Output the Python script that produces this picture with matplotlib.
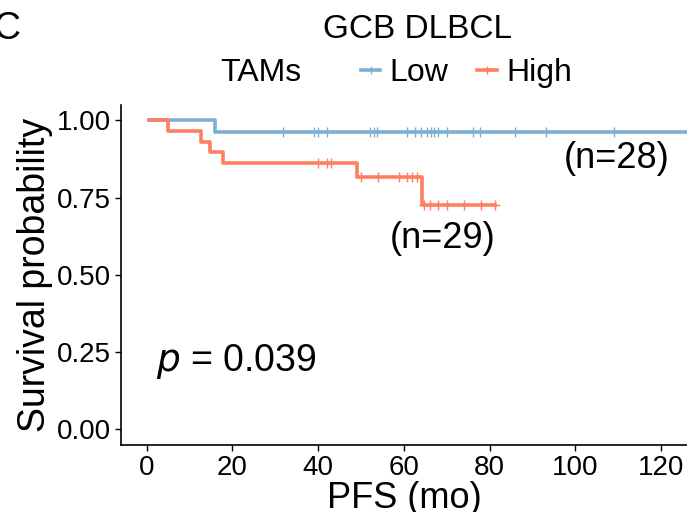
import matplotlib
matplotlib.use("Agg")
import matplotlib.pyplot as plt
import numpy as np
from matplotlib.lines import Line2D

plt.rcParams['font.family'] = ['Liberation Sans', 'DejaVu Sans']

# Kaplan-Meier steps (time in months, survival after step)
low_times = [0, 16, 130]
low_surv = [1.0, 0.964, 0.964]
low_censor = [31.8, 39.0, 39.9, 42.0, 52.0, 53.0, 53.7, 60.7, 62.5, 63.9, 65.3,
              66.3, 67.0, 67.9, 70.0, 76.1, 77.7, 85.8, 93.1, 109.0]

high_times = [0, 5.0, 12.7, 14.8, 17.8, 49.0, 64.1, 81.6]
high_surv = [1.0, 0.966, 0.931, 0.897, 0.862, 0.817, 0.727, 0.727]
high_censor = [39.9, 42.0, 43.0, 50.0, 53.9, 58.8, 60.7, 61.8, 63.0,
               64.7, 66.1, 68.0, 70.0, 73.9, 77.9, 81.2]

xticks = [0, 20, 40, 60, 80, 100, 120]
yticks = [0.00, 0.25, 0.50, 0.75, 1.00]

blue = "#7DAFD6"
red = "#FF7F61"


def surv_at(times, surv, t):
    i = np.searchsorted(times, t, side='right') - 1
    return np.array(surv)[i]


fig = plt.figure(figsize=(6.87, 5.12), dpi=100)
ax = fig.add_axes([0.176, 0.131, 0.824, 0.664])

for times, surv, cens, col in [(low_times, low_surv, low_censor, blue),
                               (high_times, high_surv, high_censor, red)]:
    ax.step(times, surv, where='post', color=col, lw=2.6, solid_capstyle='butt')
    ax.plot(cens, surv_at(times, surv, cens), ls='none', marker='+',
            ms=7, mew=1.0, color=col)

ax.set_xlim(-6, 126)
ax.set_ylim(-0.05, 1.05)
ax.set_xticks(xticks)
ax.set_yticks(yticks)
ax.set_yticklabels([f"{v:.2f}" for v in yticks])
ax.tick_params(labelsize=20, length=4, width=1.0, pad=3)
for s in ['top', 'right']:
    ax.spines[s].set_visible(False)
for s in ['left', 'bottom']:
    ax.spines[s].set_linewidth(1.2)

ax.set_xlabel("PFS (mo)", fontsize=26, labelpad=0)
ax.set_ylabel("Survival probability", fontsize=27, labelpad=3)

ax.text(109.6, 0.877, "(n=28)", fontsize=26, ha='center', va='center')
ax.text(69, 0.617, "(n=29)", fontsize=26, ha='center', va='center')
ax.text(2.2, 0.221, "$p$ = 0.039", fontsize=27, ha='left', va='center')

fig.text(0.608, 0.943, "GCB DLBCL", fontsize=24, ha='center', va='center')
fig.text(-0.010, 0.943, "C", fontsize=27, ha='left', va='center')
fig.text(0.320, 0.857, "TAMs", fontsize=23, ha='left', va='center')

handles = [Line2D([], [], color=blue, lw=2.6, marker='+', ms=6, mew=1.0),
           Line2D([], [], color=red, lw=2.6, marker='+', ms=6, mew=1.0)]
fig.legend(handles, ["Low", "High"], ncol=2, frameon=False, fontsize=23,
           loc='center left', bbox_to_anchor=(0.5255, 0.857),
           handlelength=0.6, handletextpad=0.3, columnspacing=0.9,
           borderpad=0, borderaxespad=0)

fig.savefig("out.png", dpi=100)
